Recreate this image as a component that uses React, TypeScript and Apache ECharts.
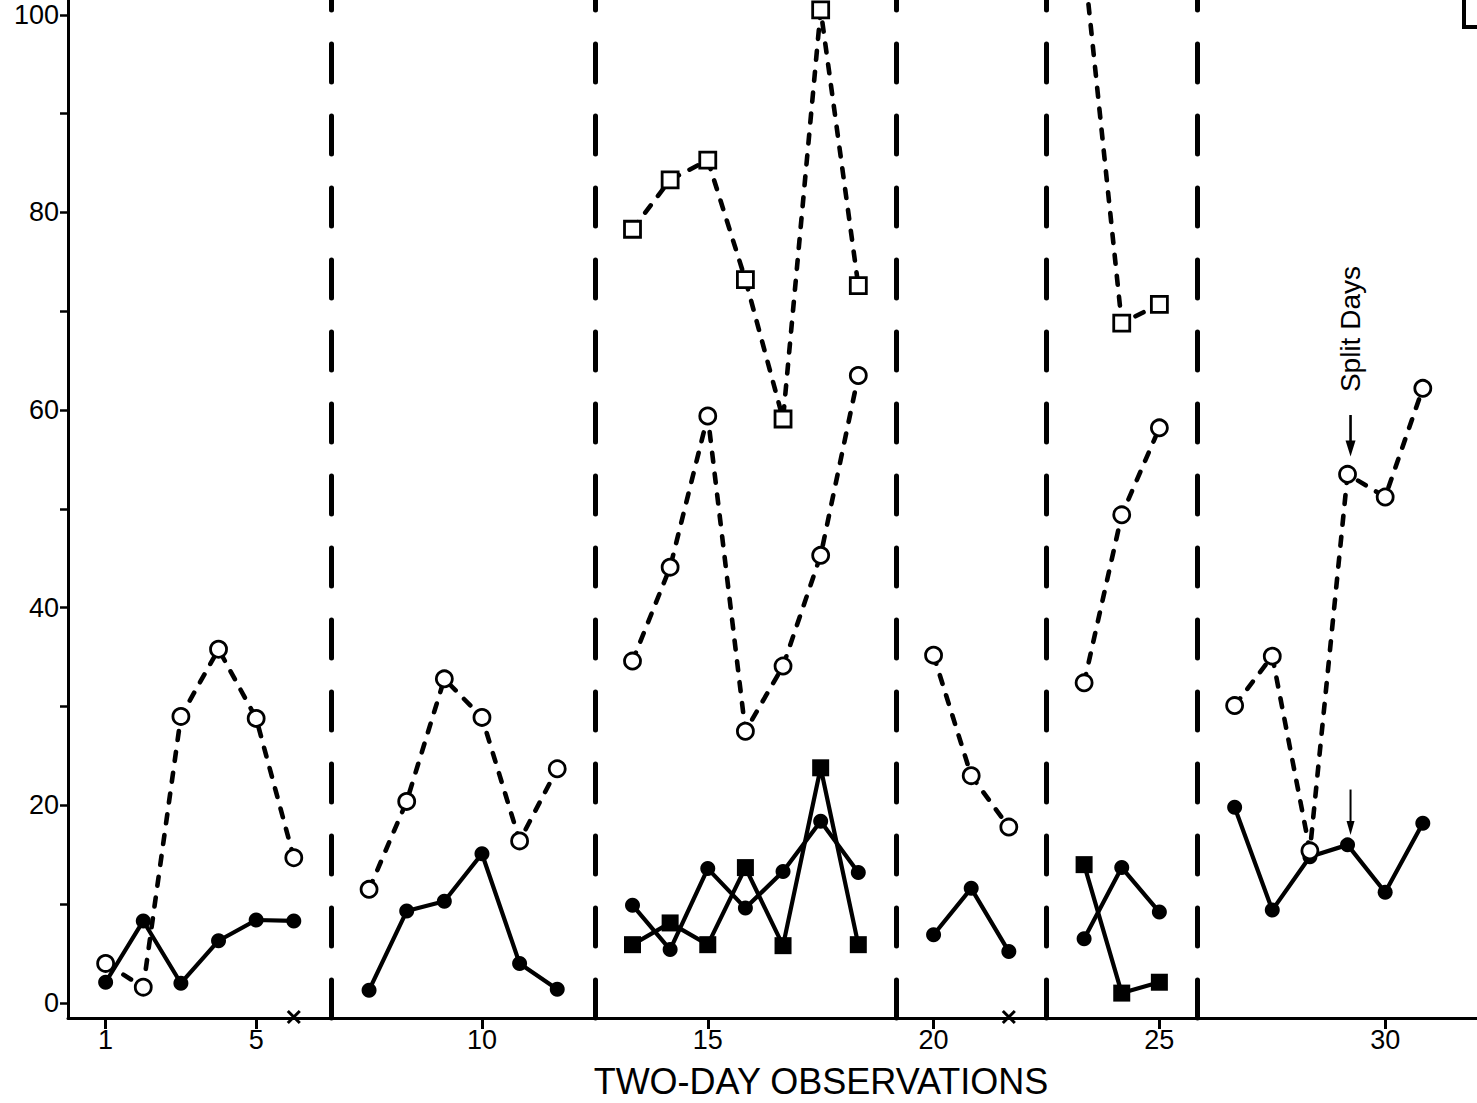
import React, { useEffect, useRef } from "react";
import * as echarts from "echarts";

// ---- data ----
const observations = [
  1, 2, 3, 4, 5, 6, 7, 8, 9, 10, 11, 12, 13, 14, 15, 16, 17, 18, 19, 20, 21, 22, 23, 24, 25, 26, 27, 28, 29, 30, 31,
];
// last observation of each phase (a dashed phase line follows each)
const phaseEnds = [6, 12, 19, 22, 25];

const openCircles = [
  4.0, 1.6, 29.0, 35.8, 28.8, 14.7,
  11.5, 20.4, 32.8, 28.9, 16.4, 23.7,
  34.6, 44.1, 59.4, 27.5, 34.1, 45.3, 63.5,
  35.2, 23.0, 17.8,
  32.4, 49.4, 58.2,
  30.1, 35.1, 15.4, 53.5, 51.2, 62.2,
];
const filledCircles = [
  2.1, 8.3, 2.0, 6.3, 8.4, 8.3,
  1.3, 9.3, 10.3, 15.1, 4.0, 1.4,
  9.9, 5.4, 13.6, 9.6, 13.3, 18.4, 13.2,
  6.9, 11.6, 5.2,
  6.5, 13.7, 9.2,
  19.8, 9.4, 14.8, 16.0, 11.2, 18.2,
];
const openSquares: (number | null)[] = [
  null, null, null, null, null, null,
  null, null, null, null, null, null,
  78.3, 83.3, 85.3, 73.2, 59.1, 100.5, 72.6,
  null, null, null,
  105.3, 68.8, 70.7,
  null, null, null, null, null, null,
];
const filledSquares: (number | null)[] = [
  null, null, null, null, null, null,
  null, null, null, null, null, null,
  5.9, 8.1, 5.9, 13.7, 5.8, 23.8, 5.9,
  null, null, null,
  14.0, 1.0, 2.1,
  null, null, null, null, null, null,
];

const xTickLabels = [1, 5, 10, 15, 20, 25, 30];
const yTickLabels = [0, 20, 40, 60, 80, 100];
const yTickMarks = [0, 10, 20, 30, 40, 50, 60, 70, 80, 90, 100];
const crossObs = [6, 22];
const crossValue = -1.42;
const splitDayObs = 29;
const splitArrowTop = 59.5;
const splitArrowTip = 55.3;
const splitTextCenter = 68.2;
const smallArrowTop = 21.6;
const smallArrowTip = 17.0;

// ---- helpers ----
const phaseOf = (obs: number) => phaseEnds.filter((e) => e < obs).length;
const slotOf = (obs: number) => obs + phaseOf(obs);
const phaseLineSlots = phaseEnds.map((e, i) => e + i + 1);
const xTickSlots = xTickLabels.map(slotOf);

function segments(values: (number | null)[]) {
  const segs: number[][][] = phaseEnds.concat([999]).map(() => []);
  values.forEach((v, i) => {
    if (v == null) return;
    const obs = observations[i];
    segs[phaseOf(obs)].push([slotOf(obs), v]);
  });
  return segs.filter((s) => s.length > 0);
}

const FONT = "Liberation Sans, Arial, Helvetica, sans-serif";

export default function App() {
  const ref = useRef<HTMLDivElement>(null);

  useEffect(() => {
    if (!ref.current) return;
    const chart = echarts.init(ref.current, null, { renderer: "svg" });

    const openStyle = {
      itemStyle: { color: "#fff", borderColor: "#000", borderWidth: 2.8, opacity: 1 },
      lineStyle: { color: "#000", width: 4.6, type: [9, 12], cap: "round" },
    };
    const filledStyle = {
      itemStyle: { color: "#000", borderColor: "#000", borderWidth: 0, opacity: 1 },
      lineStyle: { color: "#000", width: 4.2, type: "solid" },
    };

    const series: any[] = [];

    series.push({
      type: "scatter",
      z: 1,
      silent: true,
      symbol: "path://M0,0L10,10M10,0L0,10",
      symbolSize: 12,
      itemStyle: { color: "transparent", borderColor: "#000", borderWidth: 3, opacity: 1 },
      data: crossObs.map((o) => [slotOf(o), crossValue]),
      markLine: {
        silent: true,
        symbol: ["none", "none"],
        label: { show: false },
        lineStyle: { color: "#000", width: 5, type: [38, 34], cap: "round", opacity: 1 },
        data: phaseLineSlots.map((s) => ({ xAxis: s })),
      },
    });

    const addGroup = (values: (number | null)[], symbol: string, size: number, style: any, z: number) => {
      segments(values).forEach((seg) => {
        series.push({
          type: "line",
          z,
          silent: true,
          symbol,
          symbolSize: size,
          showAllSymbol: true,
          data: seg,
          ...style,
        });
      });
    };

    addGroup(filledCircles, "circle", 15, filledStyle, 3);
    addGroup(filledSquares, "rect", 17, filledStyle, 4);
    addGroup(openCircles, "circle", 16, openStyle, 5);
    addGroup(openSquares, "rect", 16, openStyle, 5);

    const option: any = {
      animation: false,
      backgroundColor: "#ffffff",
      grid: { left: 68, right: 0, top: 0, bottom: 85, containLabel: false, outerBoundsMode: "none" },
      xAxis: {
        type: "value",
        min: 0,
        max: 37.44,
        axisLine: { show: true, onZero: false, lineStyle: { color: "#000", width: 3 } },
        axisTick: { show: true, customValues: xTickSlots, length: 11, lineStyle: { color: "#000", width: 3 } },
        axisLabel: {
          customValues: xTickSlots,
          formatter: (v: number) => {
            const i = xTickSlots.findIndex((s) => Math.abs(s - v) < 1e-6);
            return i >= 0 ? String(xTickLabels[i]) : "";
          },
          fontSize: 27,
          color: "#000",
          fontFamily: FONT,
          margin: 8,
        },
        splitLine: { show: false },
      },
      yAxis: {
        type: "value",
        min: -1.52,
        max: 101.5,
        axisLine: { show: true, onZero: false, lineStyle: { color: "#000", width: 3 } },
        axisTick: { show: true, customValues: yTickMarks, length: 8, lineStyle: { color: "#000", width: 2.5 } },
        axisLabel: {
          customValues: yTickLabels,
          fontSize: 27,
          color: "#000",
          fontFamily: FONT,
          margin: 9,
        },
        splitLine: { show: false },
      },
      series,
    };

    chart.setOption(option);

    const slot = slotOf(splitDayObs);
    const px = (v: number) => chart.convertToPixel({ gridIndex: 0 }, [slot, v]) as number[];
    const tc = px(splitTextCenter);
    const a1 = px(splitArrowTop);
    const a2 = px(splitArrowTip);
    const b1 = px(smallArrowTop);
    const b2 = px(smallArrowTip);
    const head = (tip: number[], len: number, half: number) => [
      [tip[0], tip[1]],
      [tip[0] - half, tip[1] - len],
      [tip[0] + half, tip[1] - len],
    ];

    chart.setOption({
      graphic: [
        {
          type: "text",
          x: tc[0] + 3,
          y: tc[1],
          rotation: Math.PI / 2,
          silent: true,
          style: {
            text: "Split Days",
            font: `28px ${FONT}`,
            fill: "#000",
            align: "center",
            verticalAlign: "middle",
          },
        },
        {
          type: "line",
          silent: true,
          shape: { x1: a1[0] + 3, y1: a1[1], x2: a2[0] + 3, y2: a2[1] - 10 },
          style: { stroke: "#000", lineWidth: 2.6 },
        },
        {
          type: "polygon",
          silent: true,
          shape: { points: head([a2[0] + 3, a2[1]], 16, 5) },
          style: { fill: "#000" },
        },
        {
          type: "line",
          silent: true,
          shape: { x1: b1[0] + 3, y1: b1[1], x2: b2[0] + 3, y2: b2[1] - 10 },
          style: { stroke: "#000", lineWidth: 2 },
        },
        {
          type: "polygon",
          silent: true,
          shape: { points: head([b2[0] + 3, b2[1]], 14, 4) },
          style: { fill: "#000" },
        },
        {
          type: "text",
          x: 821,
          y: 1081,
          silent: true,
          style: {
            text: "TWO-DAY OBSERVATIONS",
            font: `36px ${FONT}`,
            fill: "#000",
            align: "center",
            verticalAlign: "middle",
          },
        },
        {
          type: "polyline",
          silent: true,
          shape: { points: [[1464, 0], [1464, 27], [1477, 27]] },
          style: { stroke: "#000", lineWidth: 4, fill: "none" },
        },
      ],
    });

    return () => chart.dispose();
  }, []);

  return (
    <div
      ref={ref}
      style={{ position: "fixed", left: 0, top: 0, width: 1477, height: 1103, background: "#fff" }}
    />
  );
}
